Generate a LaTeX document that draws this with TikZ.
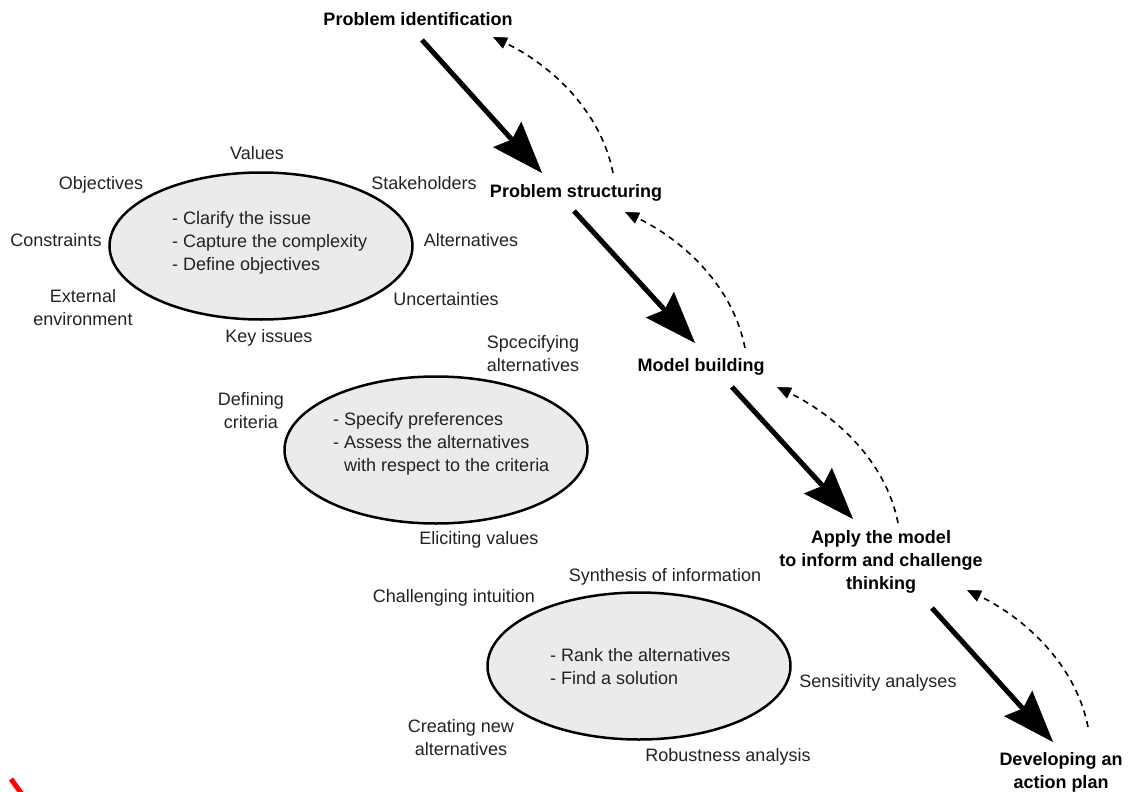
\documentclass[tikz,border=0pt]{standalone}
\usepackage{fontspec}
\setmainfont{Liberation Sans}
\usetikzlibrary{arrows.meta,shapes.geometric}
\definecolor{ink}{RGB}{34,34,34}
\definecolor{ovalfill}{RGB}{235,235,235}
\begin{document}
\begin{tikzpicture}[x=1pt,y=-1pt,
  font=\fontsize{18}{23}\selectfont,
  every node/.style={inner sep=0pt, text=ink},
  lbl/.style={align=center},
  stage/.style={align=center, font=\fontsize{18}{23}\selectfont\bfseries, text=black},
  oval/.style={ellipse, draw=black, line width=2.5pt, fill=ovalfill,
               minimum width=303pt, minimum height=147pt},
  task/.style={align=left, anchor=west},
  mainarrow/.style={line width=5pt,
    -{Stealth[length=52pt,width=38pt,inset=7pt,line width=0.5pt]}},
  feedback/.style={line width=1.6pt, dash pattern=on 6pt off 5pt,
    -{Triangle[length=14pt,width=12pt,line width=0.5pt]}},
]
\useasboundingbox (0,0) rectangle (1133,792);

% ---- stages of the process ----
\node[stage] (ident)  at (418,19)  {Problem identification};
\node[stage] (struct) at (576,193) {Problem structuring};
\node[stage] (model)  at (701,367) {Model building};
\node[stage] (apply)  at (881,562) {Apply the model\\to inform and challenge\\thinking};
\node[stage] (plan)   at (1061,772) {Developing an\\action plan};

% ---- main flow (thick arrows) ----
\coordinate (f1s) at (422,40);   \coordinate (f1e) at (542,173);
\coordinate (f2s) at (574,211);  \coordinate (f2e) at (695,343);
\coordinate (f3s) at (732,387);  \coordinate (f3e) at (853,519);
\coordinate (f4s) at (932,608);  \coordinate (f4e) at (1053,742);
\draw[mainarrow] (f1s) -- (f1e);
\draw[mainarrow] (f2s) -- (f2e);
\draw[mainarrow] (f3s) -- (f3e);
\draw[mainarrow] (f4s) -- (f4e);

% ---- feedback loops (dashed, curved) ----
\coordinate (b1s) at (613,173);  \coordinate (b1e) at (493,37);
\coordinate (b2s) at (745,348);  \coordinate (b2e) at (625,212);
\coordinate (b3s) at (898,523);  \coordinate (b3e) at (777,387);
\coordinate (b4s) at (1088,727); \coordinate (b4e) at (967,590);
\draw[feedback] (b1s) .. controls +(-12,-62) and +(58,28) .. (b1e);
\draw[feedback] (b2s) .. controls +(-12,-62) and +(58,28) .. (b2e);
\draw[feedback] (b3s) .. controls +(-12,-62) and +(58,28) .. (b3e);
\draw[feedback] (b4s) .. controls +(-12,-62) and +(58,28) .. (b4e);

% ---- structuring oval ----
\node[oval] (o1) at (261,246) {};
\node[task] (o1txt) at (172,243) {- Clarify the issue\\- Capture the complexity\\- Define objectives};
\node[lbl] (values)  at (257,153) {Values};
\node[lbl] (objs)    at (101,185) {Objectives};
\node[lbl] (stake)   at (424,183) {Stakeholders};
\node[lbl] (constr)  at (56,240)  {Constraints};
\node[lbl] (alts)    at (471,240) {Alternatives};
\node[lbl] (extenv)  at (83,308)  {External\\environment};
\node[lbl] (uncert)  at (446,299) {Uncertainties};
\node[lbl] (keyiss)  at (269,338) {Key issues};

% ---- model building oval ----
\node[oval] (o2) at (436,450) {};
\node[task] (o2txt) at (333,444) {- Specify preferences\\- Assess the alternatives\\\hphantom{- }with respect to the criteria};
\node[lbl] (specalt) at (533,354) {Spcecifying\\alternatives};
\node[lbl] (defcrit) at (251,411) {Defining\\criteria};
\node[lbl] (elicit)  at (479,540) {Eliciting values};

% ---- application oval ----
\node[oval] (o3) at (639,666) {};
\node[task] (o3txt) at (550,667) {- Rank the alternatives\\- Find a solution};
\node[lbl] (synth)   at (665,577) {Synthesis of information};
\node[lbl] (chall)   at (454,598) {Challenging intuition};
\node[lbl] (sens)    at (878,683) {Sensitivity analyses};
\node[lbl] (newalt)  at (461,738) {Creating new\\alternatives};
\node[lbl] (robust)  at (728,757) {Robustness analysis};

% ---- red stroke at the lower left corner ----
\begin{scope}
  \clip (0,0) rectangle (1133,792);
  \draw[red, line width=5pt] (11,779) -- (24,797);
\end{scope}
\end{tikzpicture}
\end{document}
